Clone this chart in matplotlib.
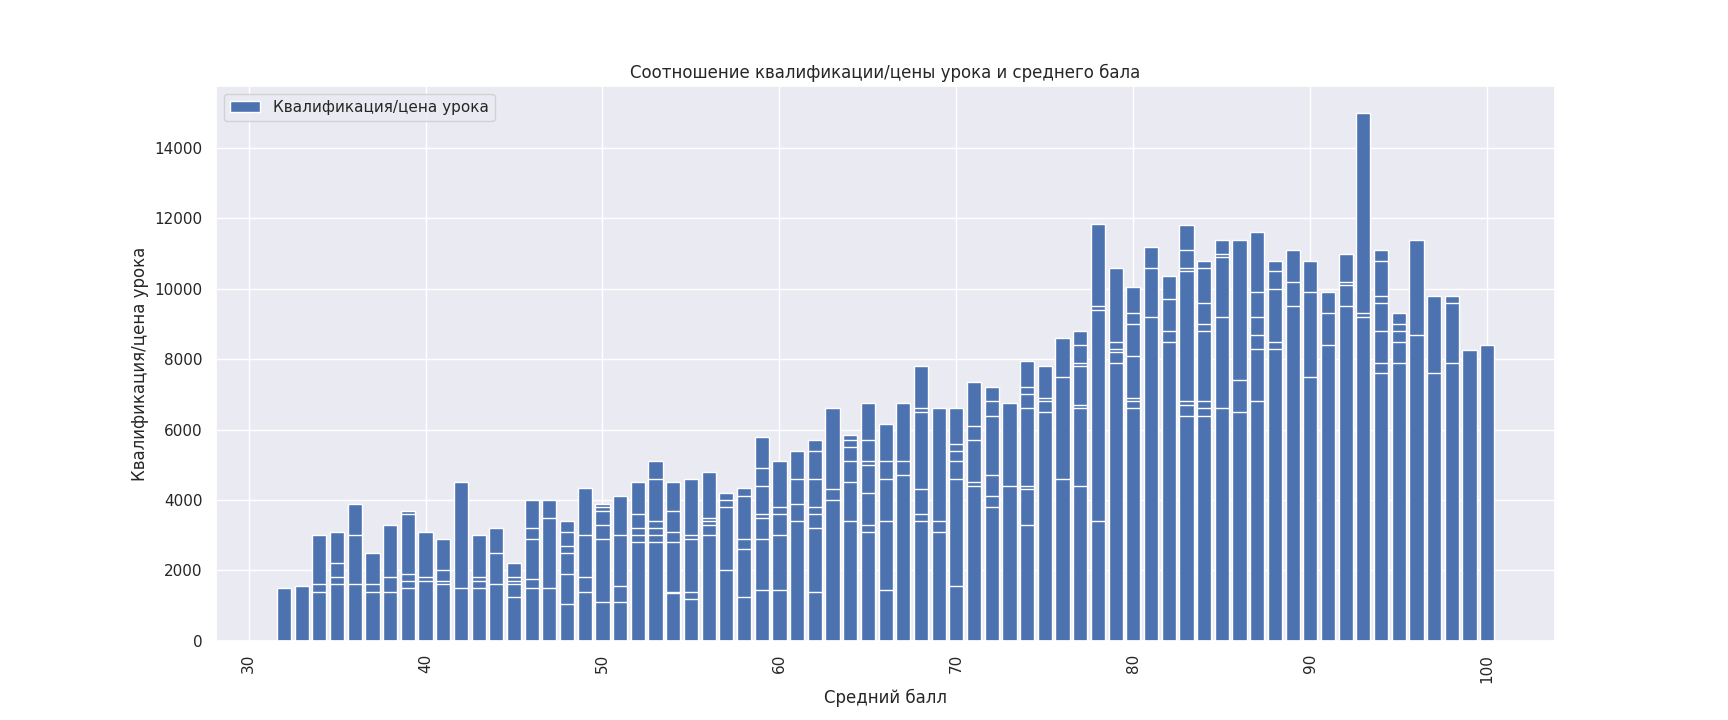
import matplotlib
matplotlib.use("Agg")
import matplotlib.pyplot as plt
import seaborn as sns

levels = {
32: [1500], 33: [1550], 34: [3000, 1600, 1400], 35: [3100, 2200, 1800, 1600],
36: [3900, 3000, 1600], 37: [2500, 1600, 1400], 38: [3300, 1800, 1400],
39: [3700, 3600, 1900, 1700, 1500], 40: [3100, 1800, 1700], 41: [2900, 2000, 1700, 1600],
42: [4500, 1500], 43: [3000, 1800, 1700, 1500], 44: [3200, 2500, 1600],
45: [2200, 1800, 1700, 1600, 1250], 46: [4000, 3200, 2900, 1750, 1500],
47: [4000, 3500, 1500], 48: [3400, 3100, 2700, 2500, 1900, 1050],
49: [4350, 3000, 1800, 1400], 50: [3900, 3800, 3700, 3300, 2900, 1100],
51: [4100, 3000, 1550, 1100], 52: [4500, 3600, 3200, 3000, 2800],
53: [5100, 4600, 3400, 3200, 3000, 2800], 54: [4500, 3700, 3100, 2800, 1400, 1350],
55: [4600, 3000, 2900, 1400, 1200], 56: [4800, 3500, 3400, 3300, 3000],
57: [4200, 4000, 3800, 2000], 58: [4350, 4100, 2900, 2600, 1250],
59: [5800, 4900, 4400, 3600, 3500, 2900, 1450], 60: [5100, 3800, 3600, 3000, 1450],
61: [5400, 4600, 3900, 3400], 62: [5700, 5400, 4600, 3800, 3600, 3200, 1400],
63: [6600, 4300, 4000], 64: [5850, 5700, 5500, 5100, 4500, 3400],
65: [6750, 5700, 5100, 5000, 4200, 3300, 3100], 66: [6150, 5100, 4600, 3400, 1450],
67: [6750, 5100, 4700], 68: [7800, 6600, 6500, 4300, 3600, 3400],
69: [6600, 3400, 3100], 70: [6600, 5600, 5400, 5100, 4600, 1550],
71: [7350, 6100, 5700, 4500, 4400], 72: [7200, 6800, 6400, 4700, 4100, 3800],
73: [6750, 4400], 74: [7950, 7200, 7000, 6600, 4400, 4300, 3300],
75: [7800, 6900, 6800, 6500], 76: [8600, 7500, 4600],
77: [8800, 8400, 7900, 7800, 6700, 6600, 4400], 78: [11850, 9500, 9400, 3400],
79: [10600, 8500, 8300, 8200, 7900], 80: [10050, 9300, 9000, 8100, 6900, 6800, 6600],
81: [11200, 10600, 9200], 82: [10350, 9700, 8800, 8500],
83: [11800, 11100, 10600, 10500, 6800, 6700, 6400],
84: [10800, 10600, 9600, 9000, 8800, 6800, 6600, 6400],
85: [11400, 11000, 10900, 9200, 6600], 86: [11400, 7400, 6500],
87: [11600, 9900, 9200, 8700, 8300, 6800], 88: [10800, 10500, 10000, 8500, 8300],
89: [11100, 10200, 9500], 90: [10800, 9900, 7500], 91: [9900, 9300, 8400],
92: [11000, 10200, 10100, 9500], 93: [15000, 9300, 9200],
94: [11100, 10800, 9800, 9600, 8800, 7900, 7600], 95: [9300, 9000, 8800, 8500, 7900],
96: [11400, 8700], 97: [9800, 7600], 98: [9800, 9600, 7900], 99: [8250], 100: [8400],
}
avg_score = []
value = []
for k, vs in levels.items():
    for v in vs:
        avg_score.append(k)
        value.append(v)

sns.set_theme(style="darkgrid")
fig, ax = plt.subplots(figsize=(17.28, 7.2), dpi=100)
order = sorted(range(len(value)), key=lambda i: -value[i])
xs = [avg_score[i] for i in order]
ys = [value[i] for i in order]
ax.bar(xs, ys, color="#4c72b0", edgecolor="white", linewidth=1,
       label="Квалификация/цена урока")
ax.set_title("Соотношение квалификации/цены урока и среднего бала")
ax.set_xlabel("Средний балл")
ax.set_ylabel("Квалификация/цена урока")
ax.set_xticks(range(30, 101, 10))
plt.xticks(rotation=90)
ax.legend(loc="upper left")
fig.savefig("out.png")
